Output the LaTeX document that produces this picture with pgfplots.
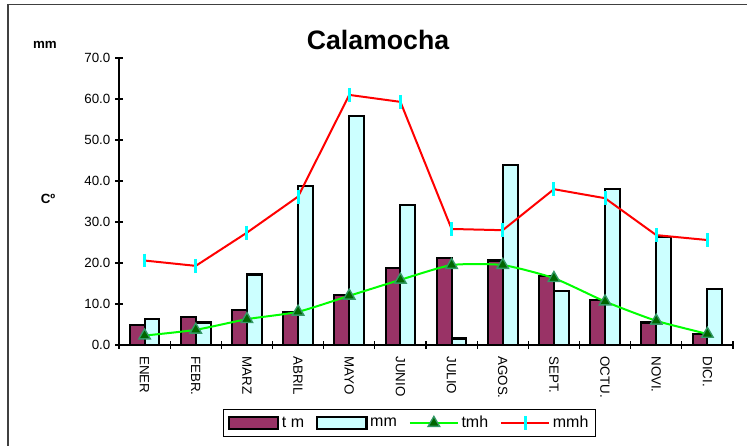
\documentclass[border=0pt]{standalone}
\usepackage{fontspec}
\setmainfont{Liberation Sans}
\usepackage{pgfplots}
\pgfplotsset{compat=1.18}

\definecolor{tmcol}{HTML}{993366}
\definecolor{mmcol}{HTML}{CCFFFF}
\definecolor{tmhline}{HTML}{00FF00}
\definecolor{tmhmark}{HTML}{006600}
\definecolor{tmhedge}{HTML}{339966}
\definecolor{mmhline}{HTML}{FF0000}
\definecolor{mmhmark}{HTML}{00FFFF}
\definecolor{framecol}{HTML}{404040}

\pgfplotsset{
  barlegend/.style={legend image code/.code={\draw[##1] (0pt,-4.5pt) rectangle (37pt,4.5pt);}},
  linelegend/.style={legend image code/.code={\draw[##1, mark repeat=2, mark phase=2] plot coordinates {(0pt,0pt) (18pt,0pt) (36pt,0pt)};}},
}

\begin{document}
\begin{tikzpicture}
\useasboundingbox (0pt,0pt) rectangle (560.25pt,334.5pt);
\fill[white] (0pt,0pt) rectangle (560.25pt,334.5pt);
\draw[framecol, line width=1.2pt] (6pt,-10pt) -- (6pt,331.25pt) -- (580pt,331.25pt);

\node[font=\fontsize{20}{24}\selectfont\bfseries] at (283.5pt,304.5pt) {Calamocha};
\node[font=\fontsize{10}{12}\selectfont\bfseries] at (33.75pt,300.75pt) {mm};
\node[font=\fontsize{10}{12}\selectfont\bfseries] at (36pt,185.25pt) {Cº};

\begin{axis}[
  at={(89.25pt,75.75pt)}, anchor=south west,
  scale only axis, width=460.5pt, height=215.25pt,
  xmin=-0.5, xmax=11.5, ymin=0, ymax=70,
  axis x line=bottom, axis y line=left,
  axis line style={-, black, line width=0.8pt},
  xtick={-0.5,0.5,...,11.5},
  x tick label as interval,
  xticklabels={ENER,FEBR.,MARZ,ABRIL,MAYO,JUNIO,JULIO,AGOS.,SEPT.,OCTU.,NOVI.,DICI.},
  xticklabel shift=2pt,
  ytick={0,10,...,70},
  yticklabel style={/pgf/number format/fixed, /pgf/number format/fixed zerofill, /pgf/number format/precision=1, /pgf/number format/assume math mode=true},
  tick align=center, major tick length=6pt,
  tick style={black, line width=0.8pt},
  x tick label style={rotate=-90, anchor=west, font=\fontsize{10}{12}\selectfont},
  y tick label style={font=\fontsize{10}{12}\selectfont},
  clip=false,
  legend columns=4,
  legend style={at={(0.473,-0.272)}, anchor=center, draw=black, line width=0.8pt,
    font=\fontsize{12}{14}\selectfont, inner sep=3pt,
    /tikz/every even column/.append style={column sep=7pt}},
]
\addplot[ybar, bar width=0.29, bar shift=-0.145, fill=tmcol, draw=black, line width=1.6pt, barlegend]
  coordinates {(0,4.9) (1,6.8) (2,8.5) (3,8.0) (4,12.2) (5,18.7) (6,21.3) (7,20.6) (8,16.8) (9,10.9) (10,5.5) (11,2.7)};
\addlegendentry{t m}
\addplot[ybar, bar width=0.29, bar shift=0.145, fill=mmcol, draw=black, line width=1.6pt, barlegend]
  coordinates {(0,6.3) (1,5.5) (2,17.2) (3,38.8) (4,55.8) (5,34.1) (6,1.6) (7,43.9) (8,13.2) (9,38.0) (10,26.3) (11,13.7)};
\addlegendentry{mm}
\addplot[color=tmhline, line width=1.5pt, smooth, tension=0.35, mark=triangle*, mark size=5pt,
  mark options={fill=tmhmark, draw=tmhedge, line width=1pt, solid}, linelegend]
  coordinates {(0,2.3) (1,3.7) (2,6.3) (3,8.1) (4,12.0) (5,15.9) (6,19.5) (7,19.5) (8,16.3) (9,10.6) (10,5.9) (11,2.7)};
\addlegendentry{tmh}
\addplot[color=mmhline, line width=1.5pt, mark=|, mark size=5.2pt,
  mark options={draw=mmhmark, line width=2.2pt}, linelegend]
  coordinates {(0,20.6) (1,19.3) (2,27.4) (3,36.2) (4,61.0) (5,59.3) (6,28.3) (7,28.0) (8,38.0) (9,35.8) (10,26.8) (11,25.6)};
\addlegendentry{mmh}
\end{axis}
\end{tikzpicture}
\end{document}
